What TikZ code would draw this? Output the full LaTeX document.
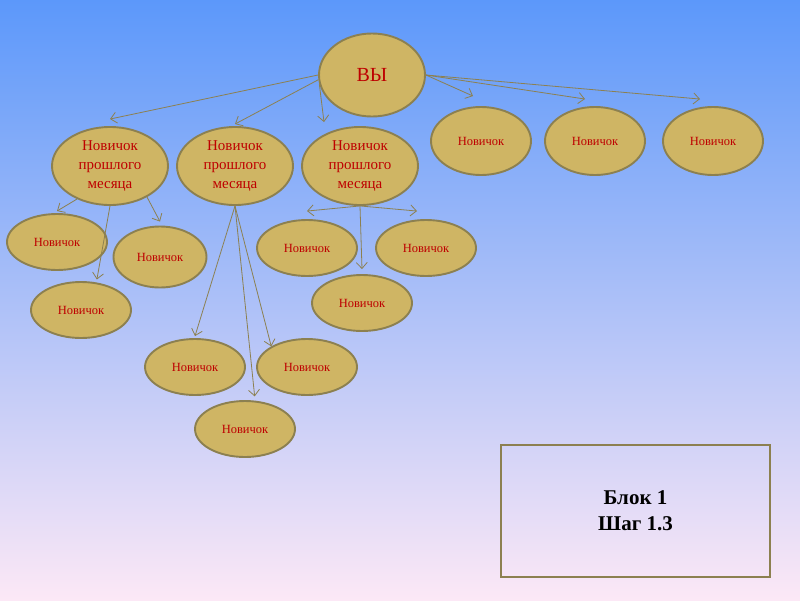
\documentclass[tikz,border=0pt]{standalone}
\usepackage{fontspec}
\setmainfont{Liberation Serif}
\usetikzlibrary{shapes.geometric,arrows.meta}
\definecolor{ovalfill}{RGB}{207,181,100}
\definecolor{olive}{RGB}{140,128,80}
\definecolor{darkred}{RGB}{190,0,0}
\definecolor{skytop}{RGB}{92,152,250}
\definecolor{skybot}{RGB}{252,232,246}
\tikzset{
  egg/.style={ellipse,draw=olive,line width=1.9pt,fill=ovalfill,inner sep=0pt,
    text=darkred,align=center},
  you/.style={egg,minimum width=106pt,minimum height=83pt,font=\fontsize{20}{22}\selectfont},
  old/.style={egg,minimum width=116pt,minimum height=78pt,font=\fontsize{15}{19}\selectfont},
  newbie/.style={egg,minimum width=100pt,minimum height=56pt,font=\fontsize{12.5}{14}\selectfont},
  link/.style={draw=olive,line width=0.8pt,-{Straight Barb[length=6pt,width=11pt]}}
}
\begin{document}
\begin{tikzpicture}[x=1pt,y=-1pt]
  \shade[top color=skytop,bottom color=skybot] (0,0) rectangle (800,600);
  \useasboundingbox (0,0) rectangle (800,600);
  \draw
    (372,75) node[you] (vy){ВЫ}
    (110,166) node[old] (0){Новичок\\прошлого\\месяца}
    (235,166) node[old] (1){Новичок\\прошлого\\месяца}
    (360,166) node[old] (2){Новичок\\прошлого\\месяца}
    (481,141) node[newbie,minimum height=68pt] (r1){Новичок}
    (595,141) node[newbie,minimum height=68pt] (r2){Новичок}
    (713,141) node[newbie,minimum height=68pt] (r3){Новичок}
    (57,242) node[newbie] (a){Новичок}
    (160,257) node[newbie,minimum width=93pt,minimum height=61pt] (b){Новичок}
    (81,310) node[newbie] (c){Новичок}
    (195,367) node[newbie] (d){Новичок}
    (307,367) node[newbie] (e){Новичок}
    (245,429) node[newbie] (f){Новичок}
    (307,248) node[newbie] (g){Новичок}
    (426,248) node[newbie] (h){Новичок}
    (362,303) node[newbie] (i){Новичок};
  \node[draw=olive,line width=1.9pt,minimum width=269pt,minimum height=132pt,
    align=center,font=\fontsize{21}{26}\selectfont\bfseries] (blok) at (635.5,511)
    {Блок 1\\Шаг 1.3};
  \begin{scope}[link]
    \draw (vy.west) to ([yshift=7pt]0.north);
    \draw (vy.185) to ([yshift=2pt]1.north);
    \draw (vy.190) to ([xshift=-36pt,yshift=4pt]2.north);
    \draw (vy.east) to ([xshift=-8pt,yshift=10pt]r1.north);
    \draw (vy.east) to ([xshift=-10pt,yshift=7pt]r2.north);
    \draw (vy.east) to ([xshift=-13pt,yshift=7pt]r3.north);
    \draw (0.225) to ([yshift=2pt]a.north);
    \draw (0.south) to ([yshift=3pt]c.60);
    \draw (0.320) to ([yshift=4pt]b.north);
    \draw (1.south) to ([yshift=2pt]d.north);
    \draw (1.south) to ([xshift=2pt,yshift=4pt]f.75);
    \draw (1.south) to (e.150);
    \draw (2.south) to ([yshift=8pt]g.north);
    \draw (2.south) to ([xshift=-9pt,yshift=8pt]h.north);
    \draw (2.south) to ([yshift=5pt]i.north);
  \end{scope}
\end{tikzpicture}
\end{document}
